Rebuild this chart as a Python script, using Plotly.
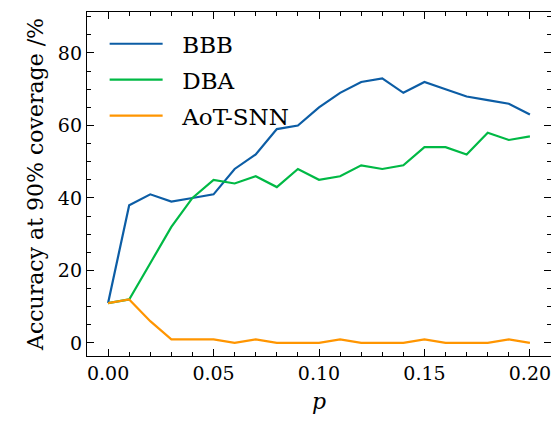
import plotly.graph_objects as go

p = [i / 100 for i in range(21)]
bbb = [11, 38, 41, 39, 40, 41, 48, 52, 59, 60, 65, 69, 72, 73, 69, 72, 70, 68, 67, 66, 63]
dba = [11, 12, 22, 32, 40, 45, 44, 46, 43, 48, 45, 46, 49, 48, 49, 54, 54, 52, 58, 56, 57]
aot = [11, 12, 6, 1, 1, 1, 0, 1, 0, 0, 0, 1, 0, 0, 0, 1, 0, 0, 0, 1, 0]

names = ["BBB", "DBA", "AoT-SNN"]
colors = ["#0C5DA5", "#00B945", "#FF9500"]
xticks = [0, 0.05, 0.10, 0.15, 0.20]
xticktext = ["0.00", "0.05", "0.10", "0.15", "0.20"]
yticks = [0, 20, 40, 60, 80]

fig = go.Figure()
for name, ys, c in zip(names, [bbb, dba, aot], colors):
    fig.add_trace(go.Scatter(x=p, y=ys, mode="lines", name="&nbsp;&nbsp;" + name,
                             legendgroup=name,
                             line=dict(color=c, width=2.2)))

fam = "DejaVu Serif"
tickfont = dict(family=fam, size=19, color="black")
titlefont = dict(family=fam, size=22, color="black")
legfont = dict(family=fam, size=23, color="black")
axis_common = dict(showline=True, linecolor="black", linewidth=1.3, mirror="allticks",
                   ticks="inside", ticklen=7, tickwidth=1.2, tickcolor="black",
                   showgrid=False, zeroline=False, tickfont=tickfont, automargin=False)

fig.update_xaxes(range=[-0.01, 0.21], tickvals=xticks, ticktext=xticktext,
                 minor=dict(dtick=0.01, tick0=0, ticks="inside", ticklen=4, tickcolor="black", tickwidth=1),
                 title=dict(text="<i>p</i>", font=titlefont, standoff=10), **axis_common)
fig.update_yaxes(range=[-3.6, 91.3], tickvals=yticks,
                 minor=dict(dtick=5, tick0=0, ticks="inside", ticklen=4, tickcolor="black", tickwidth=1),
                 title=dict(text="Accuracy at 90% coverage /%", font=titlefont, standoff=8), **axis_common)

# page body has an 8px default margin; compensate so the plot lands where the reference has it
fig.update_layout(width=551, height=413, margin=dict(l=79, r=8, t=4, b=65),
                  plot_bgcolor="white", paper_bgcolor="white", font=tickfont,
                  legend=dict(x=0.038, y=0.97, xanchor="left", yanchor="top",
                              bgcolor="rgba(0,0,0,0)", font=legfont, itemwidth=53,
                              tracegroupgap=3))
fig.write_html("out.html")
